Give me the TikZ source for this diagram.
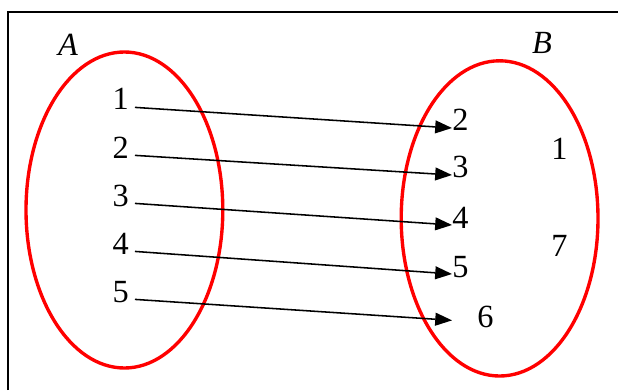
\documentclass[tikz,border=0pt]{standalone}
\usepackage{fontspec}
\setmainfont{Liberation Serif}
\usetikzlibrary{arrows.meta,shapes.geometric}

\begin{document}
\begin{tikzpicture}[
    set/.style={ellipse, draw=red, line width=2.4pt, inner sep=0pt},
    num/.style={inner sep=0pt, font=\fontsize{23}{27}\selectfont},
    link/.style={-{Triangle[length=0.42cm,width=0.32cm]}, line width=1.1pt, shorten <=0.15cm}
  ]
        \useasboundingbox (0,0) rectangle (15.45,9.75);
        % Frame
        \coordinate (fb) at (0.2,0);
        \coordinate (fc) at (0.2,9.45);
        \coordinate (fr) at (15.45,9.45);
        \draw[line width=1.1pt] (fb) -- (fc) -- (fr);

        % Define the sets
        \node[set, minimum width=4.92cm, minimum height=7.9cm] (setA) at (3.11,4.5) {};
        \node[num, font=\fontsize{23}{27}\selectfont\itshape] (labA) at (1.7,8.625) {A};

        \node[set, minimum width=4.92cm, minimum height=7.88cm] (setB) at (12.49,4.29) {};
        \node[num, font=\fontsize{23}{27}\selectfont\itshape] (labB) at (13.55,8.675) {B};

        % Elements of A
        \node[num, anchor=base east] (a1) at (3.225,7.0) {1};
        \node[num, anchor=base east] (a2) at (3.225,5.8) {2};
        \node[num, anchor=base east] (a3) at (3.225,4.6) {3};
        \node[num, anchor=base east] (a4) at (3.225,3.4) {4};
        \node[num, anchor=base east] (a5) at (3.225,2.2) {5};

        % Elements of B
        \node[num, anchor=base west] (b2) at (11.3,6.5) {2};
        \node[num, anchor=base west] (b3) at (11.3,5.325) {3};
        \node[num, anchor=base west] (b4) at (11.3,4.05) {4};
        \node[num, anchor=base west] (b5) at (11.3,2.825) {5};
        \node[num, anchor=base west] (b6) at (11.925,1.575) {6};
        \node[num, anchor=base west] (b1) at (13.775,5.775) {1};
        \node[num, anchor=base west] (b7) at (13.775,3.35) {7};

        % Define the arrows
        \draw[link] ([yshift=0.075cm]a1.base east) -- ([yshift=0.05cm]b2.base west);
        \draw[link] ([yshift=0.075cm]a2.base east) -- ([yshift=0.05cm]b3.base west);
        \draw[link] ([yshift=0.075cm]a3.base east) -- ([yshift=0.075cm]b4.base west);
        \draw[link] ([yshift=0.075cm]a4.base east) -- ([yshift=0.075cm]b5.base west);
        \draw[link, shorten >=0.625cm] ([yshift=0.075cm]a5.base east) -- ([yshift=0.125cm]b6.base west);

    \end{tikzpicture}
\end{document}
